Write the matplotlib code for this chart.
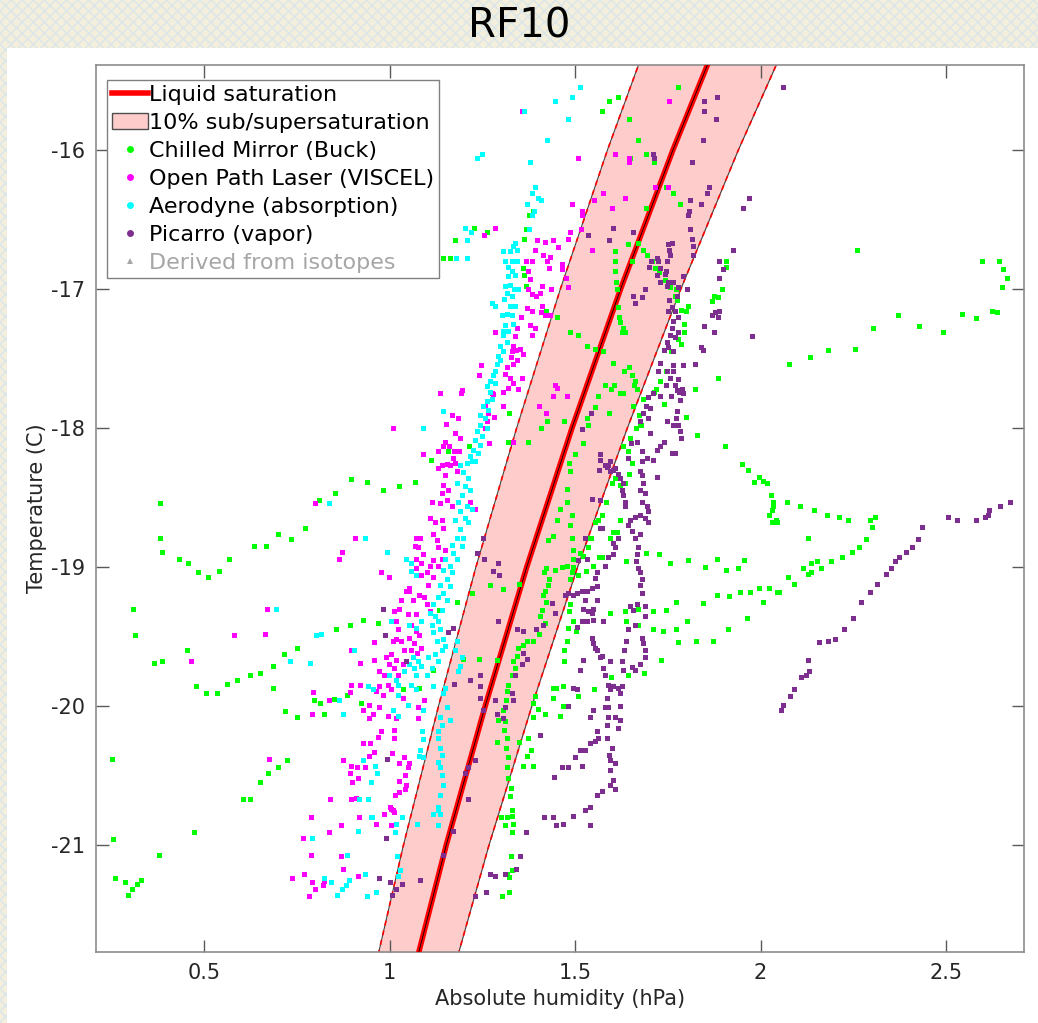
import numpy as np
import matplotlib.pyplot as plt
from matplotlib.lines import Line2D
from matplotlib.patches import Patch, Rectangle

# saturation vapour pressure over liquid (hPa)
sat_temp = [-22, -21, -20, -19, -18, -17, -16, -15]
sat_hum = [1.057, 1.153, 1.258, 1.370, 1.492, 1.623, 1.764, 1.916]
band_frac = 0.10

# Chilled Mirror (Buck): (humidity hPa, temperature C)
buck = [
    (0.896, -18.37), (0.939, -18.39), (0.982, -18.45), (1.026, -18.42), (1.069, -18.39), (0.853, -18.47),
    (0.810, -18.52), (0.381, -18.54), (0.381, -18.79), (0.387, -18.89), (0.433, -18.94), (0.457, -18.97),
    (0.484, -19.04), (0.511, -19.07), (0.540, -19.03), (0.567, -18.94), (0.635, -18.85), (0.667, -18.85),
    (0.699, -18.76), (0.734, -18.80), (0.772, -18.72), (0.309, -19.30), (0.314, -19.49), (0.454, -19.60),
    (0.365, -19.69), (0.387, -19.68), (0.478, -19.86), (0.505, -19.91), (0.535, -19.91), (0.562, -19.84),
    (0.589, -19.81), (0.624, -19.78), (0.651, -19.76), (0.686, -19.71), (0.716, -19.63), (0.751, -19.58),
    (0.856, -19.45), (0.894, -19.42), (0.929, -19.38), (0.969, -19.40), (1.004, -19.39), (0.686, -19.87),
    (0.718, -20.04), (0.751, -20.08), (0.797, -19.96), (0.813, -19.98), (0.823, -20.06), (0.850, -19.95),
    (0.885, -19.92), (0.923, -19.98), (1.036, -19.88), (1.080, -19.87), (0.252, -20.38), (0.724, -20.39),
    (0.699, -20.44), (0.672, -20.48), (0.651, -20.55), (0.605, -20.67), (0.624, -20.67), (0.473, -20.91),
    (0.255, -20.96), (0.379, -21.07), (0.260, -21.24), (0.287, -21.27), (0.306, -21.32), (0.319, -21.28),
    (0.330, -21.25), (0.295, -21.36),
    (1.177, -16.65), (1.228, -16.56), (1.263, -16.59), (1.144, -16.78), (1.163, -16.78), (1.368, -16.57),
    (1.363, -16.64), (1.376, -16.47), (1.387, -16.44), (1.360, -16.85), (1.363, -16.90), (1.368, -16.98),
    (1.422, -17.16), (1.452, -17.20), (1.425, -17.95), (1.408, -18.00), (1.373, -18.10), (1.322, -17.89),
    (1.320, -18.10), (1.214, -18.13), (1.158, -18.17), (1.112, -18.23),
    (1.778, -15.55), (1.592, -15.65), (1.616, -15.62), (1.573, -15.72), (1.646, -15.78), (1.670, -15.93),
    (1.648, -16.06), (1.691, -16.03), (1.713, -16.09), (1.745, -16.27), (1.764, -16.31), (1.783, -16.39),
    (1.691, -16.42), (1.643, -16.68), (1.670, -16.67), (1.683, -16.72), (1.694, -16.76), (1.708, -16.80),
    (1.716, -16.85), (1.727, -16.88), (1.743, -16.94), (1.756, -16.99), (1.772, -17.00), (1.608, -16.73),
    (1.608, -16.80), (1.608, -16.87), (1.610, -16.95), (1.613, -17.00), (1.654, -16.80), (1.616, -17.13),
    (1.619, -17.20), (1.621, -17.24), (1.629, -17.28), (1.627, -17.31), (1.635, -17.31), (1.487, -17.31),
    (1.508, -17.33), (1.532, -17.41), (1.554, -17.43), (1.576, -17.45), (1.602, -17.53), (1.646, -17.56),
    (1.632, -17.59), (1.654, -17.62), (1.662, -17.66), (1.659, -17.69), (1.581, -17.69), (1.597, -17.72),
    (1.605, -17.69), (1.621, -17.75), (1.629, -17.75), (1.667, -17.72), (1.562, -17.77), (1.554, -17.85),
    (1.532, -17.93), (1.535, -17.98), (1.592, -17.89), (1.470, -17.95), (1.522, -18.11), (1.500, -18.19),
    (1.657, -17.84), (1.683, -17.79), (1.713, -17.74), (1.719, -17.72), (1.729, -17.66), (1.745, -17.59),
    (1.759, -17.45), (1.778, -17.36), (1.786, -17.40), (1.794, -17.25), (1.794, -17.31), (1.786, -17.15),
    (1.799, -17.16), (1.805, -17.12), (1.775, -17.08), (1.770, -17.05), (1.823, -17.72), (1.740, -17.83),
    (1.799, -17.92), (1.829, -18.05), (1.904, -18.13), (1.886, -17.64), (1.875, -17.05), (1.886, -17.06),
    (1.869, -17.09), (1.897, -17.00), (1.907, -16.80), (1.907, -16.84), (1.673, -17.91), (1.664, -18.00),
    (1.675, -17.97), (1.648, -18.07), (1.629, -18.13), (1.643, -18.17), (1.678, -17.98),
    (1.222, -19.19), (1.182, -19.25), (1.134, -19.31), (1.117, -19.74), (1.198, -19.66), (1.241, -19.66),
    (1.271, -19.13), (1.306, -19.16), (1.349, -19.12), (1.290, -19.67), (1.460, -18.58), (1.452, -18.66),
    (1.441, -18.78), (1.427, -18.81), (1.446, -19.02), (1.422, -19.01), (1.417, -19.04), (1.430, -19.09),
    (1.427, -19.13), (1.419, -19.17), (1.414, -19.20), (1.422, -19.25), (1.411, -19.31), (1.406, -19.35),
    (1.419, -19.40), (1.403, -19.48), (1.387, -19.53), (1.371, -19.53), (1.360, -19.56), (1.346, -19.58),
    (1.344, -19.64), (1.333, -19.68), (1.338, -19.73), (1.330, -19.78), (1.319, -19.85), (1.317, -19.89),
    (1.314, -19.96), (1.306, -20.03), (1.311, -20.11), (1.309, -20.17), (1.317, -20.23), (1.314, -20.30),
    (1.319, -20.37), (1.317, -20.44), (1.319, -20.52), (1.327, -20.59), (1.325, -20.65), (1.330, -20.75),
    (1.330, -20.79), (1.317, -20.80), (1.301, -20.80), (1.311, -20.86), (1.333, -20.85), (1.330, -20.91),
    (1.327, -21.08), (1.330, -21.18), (1.317, -21.21), (1.322, -21.23), (1.322, -21.34), (1.303, -21.37),
    (1.290, -20.26), (1.292, -20.10), (1.387, -20.08), (1.419, -20.06), (1.400, -20.02), (1.441, -19.94),
    (1.441, -19.87), (1.387, -19.98), (1.393, -19.93), (1.387, -20.43), (1.360, -20.43), (1.371, -20.36),
    (1.382, -20.32), (1.373, -20.23), (1.349, -20.26), (1.449, -19.87),
    (1.484, -18.25), (1.487, -18.31), (1.479, -18.44), (1.479, -18.53), (1.492, -18.63), (1.487, -18.70),
    (1.492, -18.79), (1.495, -18.88), (1.495, -18.94), (1.495, -19.00), (1.479, -18.99), (1.465, -19.00),
    (1.492, -19.04), (1.487, -19.09), (1.513, -18.90), (1.522, -18.92), (1.530, -19.03), (1.508, -19.06),
    (1.535, -18.86), (1.532, -18.79), (1.543, -18.79), (1.554, -18.68), (1.562, -18.66), (1.573, -18.63),
    (1.584, -18.53), (1.600, -18.40), (1.608, -18.36), (1.646, -18.33), (1.635, -18.40), (1.621, -18.66),
    (1.602, -18.75), (1.613, -18.75), (1.594, -18.79), (1.565, -18.93), (1.573, -18.93), (1.549, -18.99),
    (1.487, -19.27), (1.484, -19.32), (1.481, -19.44), (1.479, -19.53), (1.470, -19.60), (1.470, -19.68),
    (1.468, -19.86), (1.508, -19.93), (1.468, -20.00), (1.460, -20.07), (1.551, -19.88), (1.597, -19.79),
    (1.643, -19.78), (1.686, -19.76), (1.732, -19.67), (1.594, -19.33), (1.637, -19.39), (1.670, -19.42),
    (1.710, -19.45), (1.737, -19.46), (1.772, -19.45), (1.802, -19.39), (1.778, -19.54), (1.826, -19.53),
    (1.872, -19.53), (1.913, -19.45), (1.635, -19.32), (1.670, -19.30), (1.710, -19.32), (1.745, -19.31),
    (1.772, -19.25), (1.845, -19.26), (1.883, -19.20), (1.915, -19.21), (1.691, -18.90), (1.727, -18.91),
    (1.756, -18.97), (1.805, -18.95), (1.850, -19.00), (1.883, -18.94), (1.907, -19.02), (1.939, -19.01),
    (1.637, -18.96), (1.654, -18.25), (1.495, -19.39), (1.503, -19.46), (1.621, -18.41),
    (1.950, -18.26), (1.966, -18.30), (1.996, -18.35), (1.982, -18.39), (2.006, -18.38), (2.017, -18.40),
    (2.028, -18.48), (2.034, -18.53), (2.034, -18.56), (2.031, -18.59), (2.023, -18.63), (2.031, -18.68),
    (2.042, -18.68), (2.044, -18.68), (2.042, -18.66), (2.071, -18.53), (2.106, -18.56), (2.144, -18.59),
    (2.179, -18.63), (2.212, -18.64), (2.236, -18.66), (2.295, -18.66), (2.309, -18.64), (2.301, -18.71),
    (2.285, -18.80), (2.266, -18.86), (2.247, -18.89), (2.220, -18.93), (2.190, -18.96), (2.152, -18.96),
    (2.163, -19.01), (2.136, -18.97), (2.136, -19.04), (2.128, -19.05), (2.115, -19.01), (2.090, -19.12),
    (2.074, -19.07), (2.050, -19.18), (2.044, -19.18), (2.023, -19.15), (1.996, -19.15), (1.972, -19.18),
    (1.945, -19.18), (2.007, -19.25), (1.964, -19.37), (2.128, -18.79), (1.955, -18.95), (2.259, -16.72),
    (2.597, -16.80), (2.643, -16.80), (2.654, -16.86), (2.665, -16.92), (2.651, -16.99), (2.637, -17.17),
    (2.624, -17.16), (2.581, -17.21), (2.543, -17.18), (2.492, -17.31), (2.427, -17.27), (2.371, -17.19),
    (2.303, -17.28), (2.255, -17.43), (2.182, -17.44), (2.133, -17.49), (2.077, -17.54),
]

# Open Path Laser (VISCEL)
viscel = [
    (1.357, -15.72), (1.284, -16.56), (1.255, -16.61), (1.398, -16.65), (1.419, -16.66), (1.441, -16.65),
    (1.454, -16.70), (1.392, -16.72), (1.414, -16.76), (1.433, -16.77), (1.425, -16.80), (1.430, -16.85),
    (1.368, -16.80), (1.384, -16.80), (1.373, -16.87), (1.379, -16.93), (1.373, -17.00), (1.411, -16.98),
    (1.436, -17.00), (1.384, -17.04), (1.395, -17.05), (1.406, -17.03), (1.411, -17.12), (1.371, -17.14),
    (1.384, -17.16), (1.354, -17.20), (1.409, -17.17), (1.419, -17.19), (1.433, -17.19), (1.379, -17.26),
    (1.392, -17.28), (1.384, -17.33), (1.344, -17.28), (1.338, -17.34), (1.333, -17.41), (1.341, -17.44),
    (1.352, -17.43), (1.360, -17.47), (1.330, -17.45), (1.327, -17.49), (1.344, -17.51), (1.317, -17.56),
    (1.333, -17.54), (1.311, -17.61), (1.325, -17.64), (1.357, -17.64), (1.333, -17.68), (1.319, -17.71),
    (1.346, -17.72), (1.306, -17.74), (1.279, -17.76), (1.247, -17.55), (1.241, -17.62), (1.284, -17.31),
    (1.193, -17.75), (1.195, -17.73), (1.136, -17.75), (1.168, -17.91), (1.185, -17.93), (1.152, -17.97),
    (1.177, -18.04), (1.190, -18.07), (1.150, -18.10), (1.144, -18.13), (1.160, -18.13), (1.174, -18.17),
    (1.187, -18.17), (1.131, -18.17), (1.171, -18.22), (1.155, -18.26), (1.142, -18.27), (1.177, -18.25),
    (1.090, -18.19), (1.009, -18.00), (1.276, -17.75), (1.257, -17.84), (1.265, -17.89), (1.282, -17.92),
    (1.306, -17.84), (1.263, -17.95), (1.257, -18.00), (1.268, -18.11), (1.244, -18.12), (1.403, -17.84),
    (1.422, -17.89), (1.441, -17.77), (1.452, -17.71), (1.446, -17.69), (1.333, -18.10),
    (1.753, -15.65), (1.608, -16.03), (1.646, -16.06), (1.646, -16.09), (1.508, -16.06), (1.576, -16.31),
    (1.551, -16.36), (1.635, -16.35), (1.600, -16.42), (1.492, -16.39), (1.519, -16.44), (1.519, -16.47),
    (1.516, -16.57), (1.487, -16.59), (1.481, -16.64), (1.546, -16.72), (1.465, -16.82), (1.465, -16.86),
    (1.476, -16.92), (1.481, -16.99), (1.716, -16.27), (1.751, -16.27), (1.479, -17.77),
    (0.799, -18.54), (0.907, -18.79), (0.872, -18.89), (0.864, -18.94), (0.977, -19.04), (0.999, -19.07),
    (1.072, -18.79), (1.082, -18.79), (1.069, -18.85), (0.670, -19.30), (0.581, -19.49), (0.665, -19.48),
    (0.465, -19.68), (0.896, -19.60), (0.920, -19.69), (0.958, -19.67), (0.958, -19.54), (0.991, -19.65),
    (0.999, -19.70), (0.972, -19.75), (0.985, -19.78), (1.009, -19.53), (1.023, -19.45), (1.012, -19.32),
    (1.026, -19.30), (1.031, -19.24), (1.045, -19.17), (1.053, -19.17), (1.063, -19.24), (1.072, -19.34),
    (1.018, -19.39), (0.972, -19.86), (0.964, -19.89), (0.983, -19.92), (0.945, -19.99), (0.956, -20.06),
    (0.972, -20.01), (0.929, -20.03), (0.920, -19.85), (0.896, -19.85), (0.894, -19.90), (0.794, -19.90),
    (0.791, -20.06), (0.837, -19.96), (0.945, -20.09), (0.996, -20.07), (1.018, -20.09), (1.077, -20.09),
    (1.093, -19.96), (1.077, -20.01), (1.036, -19.94), (1.012, -20.17), (0.977, -20.18), (1.012, -20.23),
    (0.969, -20.22), (0.929, -20.27), (0.948, -20.27), (0.958, -20.33), (0.945, -20.36), (1.007, -20.34),
    (1.026, -20.41), (1.039, -20.37), (1.053, -20.41), (1.050, -20.44), (1.042, -20.50), (1.026, -20.54),
    (1.045, -20.57), (1.042, -20.60), (1.026, -20.62), (1.015, -20.64), (1.001, -20.73), (1.009, -20.75),
    (0.985, -20.78), (0.964, -20.85), (1.004, -20.86), (0.875, -20.39), (0.896, -20.43), (0.912, -20.44),
    (0.934, -20.44), (0.894, -20.48), (0.915, -20.52), (0.899, -20.55), (0.840, -20.67), (0.896, -20.67),
    (0.910, -20.66), (0.675, -20.38), (0.788, -20.80), (0.869, -20.86), (0.918, -20.80), (0.837, -20.91),
    (0.767, -20.95), (0.788, -21.07), (0.869, -21.08), (0.875, -21.17), (0.737, -21.24), (0.770, -21.21),
    (0.791, -21.27), (0.799, -21.32), (0.783, -21.37), (0.821, -21.29), (0.824, -21.26), (0.915, -21.22),
    (1.050, -19.34), (1.058, -19.42), (1.072, -19.46), (1.080, -19.49), (1.053, -19.51), (1.066, -19.55),
    (1.085, -19.58), (1.018, -19.52), (1.031, -19.53), (1.039, -19.60), (1.058, -19.60), (1.074, -19.62),
    (1.004, -19.63), (1.018, -19.67), (1.036, -19.70), (1.012, -19.73), (1.023, -19.78), (0.996, -19.85),
    (1.004, -19.88), (1.072, -18.94), (1.085, -18.97), (1.072, -19.01), (1.085, -19.06), (1.053, -19.15),
    (1.080, -19.20), (1.093, -19.22), (1.077, -18.86), (1.091, -18.91), (1.004, -20.74), (1.012, -20.76),
    (1.131, -18.29), (1.142, -18.27), (1.163, -18.27), (1.150, -18.34), (1.182, -18.31), (1.144, -18.41),
    (1.158, -18.45), (1.142, -18.47), (1.155, -18.52), (1.136, -18.54), (1.168, -18.56), (1.115, -18.53),
    (1.109, -18.65), (1.123, -18.68), (1.142, -18.66), (1.144, -18.72), (1.117, -18.76), (1.128, -18.81),
    (1.131, -18.86), (1.150, -18.88), (1.142, -18.94), (1.117, -18.95), (1.131, -18.99), (1.109, -18.99),
    (1.101, -19.04), (1.117, -19.07), (1.104, -19.13), (1.231, -18.58), (1.217, -18.53), (1.101, -19.27),
    (1.109, -19.32),
]

# Aerodyne (absorption)
aerodyne = [
    (1.513, -15.55), (1.446, -15.65), (1.492, -15.62), (1.481, -15.78), (1.363, -15.72), (1.425, -15.93),
    (1.236, -16.06), (1.249, -16.03), (1.379, -16.09), (1.392, -16.27), (1.384, -16.31), (1.400, -16.35),
    (1.408, -16.36), (1.371, -16.39), (1.390, -16.44), (1.384, -16.47), (1.376, -16.57), (1.204, -16.56),
    (1.220, -16.59), (1.209, -16.65), (1.179, -16.78), (1.209, -16.78), (1.338, -16.67), (1.333, -16.69),
    (1.325, -16.73), (1.344, -16.72), (1.306, -16.73), (1.311, -16.80), (1.330, -16.80), (1.344, -16.80),
    (1.319, -16.84), (1.330, -16.87), (1.338, -16.90), (1.319, -16.91), (1.325, -16.97), (1.311, -16.98),
    (1.336, -17.00), (1.346, -17.00), (1.317, -17.03), (1.330, -17.05), (1.309, -17.07), (1.325, -17.12),
    (1.338, -17.12), (1.303, -17.19), (1.317, -17.18), (1.330, -17.19), (1.333, -17.25), (1.311, -17.26),
    (1.306, -17.30), (1.319, -17.30), (1.306, -17.33), (1.317, -17.38), (1.298, -17.41), (1.306, -17.45),
    (1.292, -17.48), (1.298, -17.51), (1.290, -17.54), (1.284, -17.59), (1.279, -17.62), (1.271, -17.66),
    (1.284, -17.68), (1.263, -17.70), (1.271, -17.74), (1.276, -17.79), (1.263, -17.81), (1.252, -17.84),
    (1.265, -17.87), (1.244, -17.91), (1.257, -17.93), (1.244, -17.98), (1.263, -18.00), (1.236, -18.02),
    (1.249, -18.06), (1.231, -18.09), (1.244, -18.12), (1.225, -18.16), (1.239, -18.18), (1.217, -18.20),
    (1.231, -18.24), (1.209, -18.25), (1.144, -17.88), (1.090, -18.00), (1.284, -17.12), (1.276, -17.10),
    (1.190, -18.27), (1.222, -18.24), (1.198, -18.32), (1.212, -18.36), (1.182, -18.40), (1.204, -18.42),
    (1.195, -18.48), (1.217, -18.45), (1.185, -18.53), (1.209, -18.56), (1.222, -18.58), (1.190, -18.60),
    (1.204, -18.65), (1.177, -18.66), (1.212, -18.68), (1.190, -18.73), (1.182, -18.79), (1.198, -18.79),
    (1.168, -18.84), (1.195, -18.85), (1.171, -18.90), (1.150, -18.94), (1.182, -18.94), (1.163, -18.99),
    (1.144, -19.02), (1.168, -19.04), (1.155, -19.09), (1.136, -19.13), (1.163, -19.14), (1.144, -19.19),
    (1.131, -19.22), (1.155, -19.24), (1.117, -19.27), (1.142, -19.31), (1.123, -19.35), (1.109, -19.33),
    (1.131, -19.39), (1.115, -19.42), (1.136, -19.45), (1.117, -19.47), (1.144, -19.52), (1.128, -19.53),
    (1.142, -19.60), (1.150, -19.57), (1.123, -19.63), (1.104, -19.65), (1.131, -19.68), (1.115, -19.73),
    (1.101, -19.78), (1.182, -19.53), (1.177, -19.60), (1.195, -19.65), (1.190, -19.71), (1.185, -19.75),
    (1.117, -19.86), (1.150, -19.87), (1.144, -19.91), (1.155, -20.01), (1.163, -20.10), (1.136, -20.08),
    (1.142, -20.14), (1.131, -20.18), (1.131, -20.23), (1.136, -20.30), (1.142, -20.35), (1.131, -20.40),
    (1.136, -20.44), (1.142, -20.50), (1.144, -20.57), (1.136, -20.64), (1.131, -20.73), (1.136, -20.78),
    (1.131, -20.86), (1.020, -21.08), (1.028, -21.18), (1.023, -21.22), (1.082, -20.32), (1.091, -20.37),
    (1.015, -20.91), (1.034, -20.80), (1.018, -20.85), (1.074, -20.85), (1.117, -20.78), (1.131, -20.75),
    (0.837, -18.54), (0.934, -18.79), (0.993, -18.89), (1.045, -18.94), (1.058, -18.97), (1.058, -19.03),
    (1.072, -19.06), (0.694, -19.30), (0.802, -19.49), (0.815, -19.48), (0.732, -19.68), (0.786, -19.69),
    (0.904, -19.60), (1.004, -19.39), (1.085, -19.39), (1.053, -19.42), (1.072, -19.44), (1.063, -19.65),
    (1.077, -19.68), (1.053, -19.70), (1.066, -19.73), (1.085, -19.71), (1.039, -19.75), (1.072, -19.78),
    (1.018, -19.81), (1.058, -19.85), (1.072, -19.88), (1.023, -19.92), (1.050, -19.99), (1.009, -20.03),
    (1.023, -20.07), (0.999, -19.78), (1.023, -19.85), (0.942, -19.86), (0.956, -19.88), (0.864, -19.96),
    (0.875, -20.06), (1.091, -20.03), (1.088, -20.18), (1.091, -20.24), (1.080, -20.36), (0.929, -20.39),
    (0.961, -20.43), (0.966, -20.48), (0.951, -20.55), (0.918, -20.67), (0.942, -20.67), (0.951, -20.80),
    (0.915, -20.90), (0.791, -20.95), (0.886, -21.07), (0.934, -21.21), (0.891, -21.25), (0.883, -21.29),
    (0.872, -21.32), (0.859, -21.36), (0.824, -21.24), (0.842, -21.27), (0.964, -21.34), (0.940, -21.37),
    (0.953, -20.80),
]

# Picarro (vapor)
picarro = [
    (0.982, -19.30), (0.988, -19.49), (0.993, -20.38), (0.991, -20.95), (0.972, -21.24), (1.001, -21.27),
    (1.034, -21.28), (1.018, -21.32), (1.007, -21.36), (1.082, -21.25), (1.045, -19.68),
    (1.252, -18.79), (1.255, -18.94), (1.292, -18.97), (1.279, -19.03), (1.295, -19.06), (1.236, -18.90),
    (1.171, -19.44), (1.158, -19.47), (1.292, -19.39), (1.344, -19.45), (1.360, -19.46), (1.395, -19.45),
    (1.414, -19.42), (1.438, -19.26), (1.446, -19.33), (1.360, -19.62), (1.371, -19.66), (1.357, -19.70),
    (1.338, -19.78), (1.244, -19.78), (1.217, -19.81), (1.174, -19.84), (1.244, -19.86), (1.244, -19.94),
    (1.252, -20.03), (1.284, -19.96), (1.290, -20.06), (1.311, -20.01), (1.333, -19.96), (1.330, -19.91),
    (1.306, -20.09), (1.212, -20.44), (1.231, -20.39), (1.204, -20.48), (1.212, -20.67), (1.171, -20.90),
    (1.144, -21.07), (1.260, -21.34), (1.271, -21.21), (1.284, -21.22), (1.311, -21.21), (1.352, -21.08),
    (1.368, -20.91), (1.449, -20.86), (1.417, -20.80), (1.441, -20.80), (1.444, -20.51), (1.406, -20.21),
    (1.341, -21.17), (1.231, -21.37),
    (1.848, -15.65), (1.883, -15.62), (1.848, -15.72), (1.880, -15.78), (1.845, -15.93), (1.710, -16.03),
    (1.713, -16.06), (1.815, -16.09), (1.861, -16.27), (1.856, -16.31), (1.969, -16.35), (1.953, -16.42),
    (1.810, -16.36), (1.840, -16.39), (1.807, -16.44), (1.805, -16.47), (1.810, -16.57), (1.815, -16.64),
    (1.602, -16.56), (1.535, -16.61), (1.592, -16.65), (1.657, -16.59), (1.762, -16.67), (1.751, -16.68),
    (1.753, -16.72), (1.756, -16.76), (1.748, -16.80), (1.721, -16.78), (1.724, -16.80), (1.705, -16.80),
    (1.700, -16.84), (1.729, -16.85), (1.745, -16.87), (1.743, -16.89), (1.721, -16.90), (1.729, -16.95),
    (1.751, -16.95), (1.748, -16.98), (1.764, -16.95), (1.778, -16.99), (1.802, -17.00), (1.791, -16.91),
    (1.818, -16.76), (1.818, -16.69), (1.926, -16.72), (1.888, -16.80), (1.899, -16.86), (1.888, -16.92),
    (1.689, -17.00), (1.657, -17.05), (1.681, -17.06), (1.662, -17.10), (1.775, -17.05), (1.753, -17.08),
    (1.762, -17.13), (1.751, -17.16), (1.770, -17.16), (1.778, -17.20), (1.764, -17.23), (1.762, -17.28),
    (1.778, -17.31), (1.770, -17.35), (1.756, -17.33), (1.748, -17.38), (1.740, -17.44), (1.751, -17.42),
    (1.764, -17.45), (1.729, -17.53), (1.764, -17.55), (1.791, -17.55), (1.823, -17.54), (1.845, -17.44),
    (1.840, -17.42), (1.869, -17.19), (1.886, -17.20), (1.878, -17.17), (1.888, -17.16), (1.848, -17.27),
    (1.875, -17.31), (1.977, -17.34), (1.748, -17.59), (1.764, -17.59), (1.724, -17.59), (1.756, -17.64),
    (1.778, -17.65), (1.745, -17.69), (1.770, -17.69), (1.788, -17.72), (1.775, -17.73), (1.780, -17.74),
    (1.791, -17.75), (1.783, -17.80), (1.759, -17.77), (1.729, -17.77), (1.710, -17.75), (1.697, -17.78),
    (1.691, -17.84), (1.702, -17.86), (1.683, -17.89), (1.697, -17.93), (1.675, -17.95), (1.775, -17.88),
    (1.772, -17.93), (1.748, -17.95), (1.764, -17.98), (1.778, -17.98), (1.783, -18.02), (1.786, -18.07),
    (1.740, -18.10), (1.729, -18.13), (1.721, -18.16), (1.762, -18.18), (1.770, -18.18), (1.702, -18.04),
    (1.667, -18.10), (1.651, -18.11), (1.681, -18.17), (1.643, -18.22), (1.694, -18.22), (1.567, -18.19),
    (1.543, -17.89), (1.519, -18.01), (1.594, -18.24), (1.586, -18.28), (1.565, -18.30), (1.602, -18.30),
    (1.681, -18.34), (1.721, -18.35),
    (1.589, -18.27), (1.608, -18.29), (1.616, -18.33), (1.621, -18.36), (1.629, -18.40), (1.627, -18.45),
    (1.629, -18.48), (1.635, -18.53), (1.635, -18.56), (1.675, -18.31), (1.681, -18.24), (1.683, -18.40),
    (1.675, -18.45), (1.689, -18.47), (1.681, -18.53), (1.694, -18.56), (1.697, -18.60), (1.689, -18.65),
    (1.697, -18.68), (1.675, -18.63), (1.662, -18.64), (1.648, -18.66), (1.643, -18.70), (1.654, -18.74),
    (1.662, -18.79), (1.675, -18.76), (1.670, -18.86), (1.667, -18.91), (1.664, -18.96), (1.670, -19.01),
    (1.675, -19.04), (1.681, -19.09), (1.675, -19.13), (1.681, -19.19), (1.667, -19.27), (1.657, -19.31),
    (1.648, -19.28), (1.689, -19.28), (1.689, -19.35), (1.662, -19.42), (1.643, -19.45), (1.681, -19.51),
    (1.683, -19.55), (1.689, -19.60), (1.689, -19.65), (1.675, -19.70), (1.662, -19.74), (1.654, -19.72),
    (1.629, -19.74), (1.627, -19.68), (1.632, -19.60), (1.637, -19.53), (1.710, -18.23), (1.567, -18.52),
    (1.573, -18.72), (1.616, -18.79), (1.602, -18.83), (1.608, -18.86), (1.602, -18.91), (1.589, -18.93),
    (1.581, -18.99), (1.559, -19.04), (1.554, -19.08), (1.559, -19.14), (1.546, -19.15), (1.532, -19.17),
    (1.519, -19.17), (1.505, -19.19), (1.527, -19.24), (1.522, -19.30), (1.535, -19.32), (1.549, -19.30),
    (1.546, -19.33), (1.532, -19.39), (1.519, -19.39), (1.505, -19.43), (1.549, -19.38), (1.576, -19.39),
    (1.546, -19.51), (1.549, -19.55), (1.554, -19.58), (1.559, -19.60), (1.573, -19.64), (1.576, -19.73),
    (1.581, -19.78), (1.589, -19.85), (1.594, -19.88), (1.602, -19.86), (1.616, -19.87), (1.627, -19.86),
    (1.621, -19.91), (1.586, -19.94), (1.581, -20.01), (1.589, -20.01), (1.608, -20.08), (1.621, -20.10),
    (1.589, -20.08), (1.586, -20.14), (1.621, -20.00), (1.559, -20.18), (1.554, -20.25), (1.586, -20.23),
    (1.600, -20.30), (1.592, -20.35), (1.594, -20.39), (1.608, -20.41), (1.594, -20.46), (1.602, -20.53),
    (1.594, -20.57), (1.608, -20.60), (1.573, -20.61), (1.559, -20.64), (1.540, -20.73), (1.527, -20.75),
    (1.495, -20.79), (1.540, -20.86), (1.468, -20.85), (1.527, -20.32), (1.500, -20.37), (1.519, -20.43),
    (1.481, -20.44), (1.465, -20.44), (1.540, -20.08), (1.549, -20.03), (1.481, -20.00), (1.495, -19.87),
    (1.505, -19.88), (1.522, -19.67), (1.513, -19.74), (1.567, -18.23), (1.581, -18.27), (1.594, -18.31),
    (1.546, -18.51), (1.567, -18.72), (1.527, -18.79), (1.532, -18.94), (1.508, -18.95), (1.495, -19.20),
    (1.481, -19.19), (1.473, -19.20), (1.559, -19.24), (1.562, -20.23), (1.540, -20.27), (1.513, -20.32),
    (1.616, -20.16), (1.594, -19.68), (1.567, -19.65),
    (2.673, -18.53), (2.646, -18.56), (2.616, -18.59), (2.613, -18.63), (2.605, -18.64), (2.581, -18.66),
    (2.530, -18.66), (2.505, -18.64), (2.435, -18.71), (2.425, -18.80), (2.408, -18.86), (2.392, -18.89),
    (2.373, -18.93), (2.363, -18.96), (2.352, -19.01), (2.338, -19.05), (2.314, -19.12), (2.295, -19.18),
    (2.271, -19.25), (2.249, -19.37), (2.225, -19.45), (2.201, -19.52), (2.182, -19.53), (2.158, -19.54),
    (2.128, -19.67), (2.131, -19.75), (2.123, -19.78), (2.109, -19.79), (2.090, -19.88), (2.080, -19.93),
    (2.061, -19.99), (2.055, -20.03), (2.061, -15.55),
]

series = [
    ("Chilled Mirror (Buck)", buck, (0, 1, 0)),
    ("Open Path Laser (VISCEL)", viscel, (1, 0, 1)),
    ("Aerodyne (absorption)", aerodyne, (0, 1, 1)),
    ("Picarro (vapor)", picarro, (0.49, 0.18, 0.56)),
]

plt.rcParams["axes.unicode_minus"] = False
plt.rcParams["hatch.linewidth"] = 1.0

fig = plt.figure(figsize=(10.38, 10.23), dpi=100)
fig.patch.set_facecolor("#f4efdc")
bg = Rectangle((0, 0), 1, 1, transform=fig.transFigure, facecolor="#f4efdc",
               edgecolor="#dae6ea", hatch="xxx", lw=0, zorder=-10)
fig.patches.append(bg)
white = Rectangle((7 / 1038, 0), 1, 1 - 48 / 1023, transform=fig.transFigure,
                  facecolor="white", edgecolor="none", zorder=-9)
fig.patches.append(white)

ax = fig.add_axes([96 / 1038, 1 - 952 / 1023, 928 / 1038, 887 / 1023])
ax.set_facecolor("white")

st = np.array(sat_temp)
sh = np.array(sat_hum)
lo = sh * (1 - band_frac)
hi = sh * (1 + band_frac)
ax.fill_betweenx(st, lo, hi, color=(1, 0.8, 0.8), lw=0, zorder=1)
for edge in (lo, hi):
    ax.plot(edge, st, color="0.25", lw=0.8, zorder=2)
    ax.plot(edge, st, color="red", lw=1.2, ls=(0, (3, 3)), zorder=2)
ax.plot(sh, st, color="red", lw=4, zorder=3)
ax.plot(sh, st, color="black", lw=0.6, zorder=3)

for name, pts, col in series:
    arr = np.array(pts)
    ax.plot(arr[:, 0], arr[:, 1], ls="none", marker="s", ms=3.6, mew=0,
            color=col, zorder=4)

ax.set_xlim(0.209, 2.71)
ax.set_ylim(-21.77, -15.39)
ax.set_xticks([0.5, 1, 1.5, 2, 2.5])
ax.set_xticklabels(["0.5", "1", "1.5", "2", "2.5"])
ax.set_yticks([-21, -20, -19, -18, -17, -16])
ax.tick_params(direction="in", length=9, width=1, color="0.35", labelsize=15,
               labelcolor="0.15", top=True, right=True, pad=8)
for s in ax.spines.values():
    s.set_color("0.55")
    s.set_linewidth(1.2)

ax.set_xlabel("Absolute humidity (hPa)", fontsize=15, color="0.15", labelpad=4)
ax.set_ylabel("Temperature (C)", fontsize=15, color="0.15", labelpad=3)
fig.text(0.5, 1 - 27 / 1023, "RF10", ha="center", va="center", fontsize=29)

handles = [
    Line2D([], [], color="red", lw=4),
    Patch(facecolor=(1, 0.8, 0.8), edgecolor="0.3", lw=1),
]
labels = ["Liquid saturation", "10% sub/supersaturation"]
for name, pts, col in series:
    handles.append(Line2D([], [], ls="none", marker="o", ms=5, mew=0, color=col))
    labels.append(name)
handles.append(Line2D([], [], ls="none", marker="^", ms=5, mew=0, color="0.65"))
labels.append("Derived from isotopes")

leg = ax.legend(handles, labels, loc="upper left", bbox_to_anchor=(0.012, 0.983),
                borderaxespad=0, fontsize=16, frameon=True, fancybox=False,
                handlelength=1.6, handletextpad=0.05, labelspacing=0.36,
                borderpad=0.22, framealpha=1)
leg.get_frame().set_edgecolor("0.5")
leg.get_frame().set_linewidth(1)
leg.get_texts()[-1].set_color("0.65")

fig.savefig("out.png", dpi=100)
